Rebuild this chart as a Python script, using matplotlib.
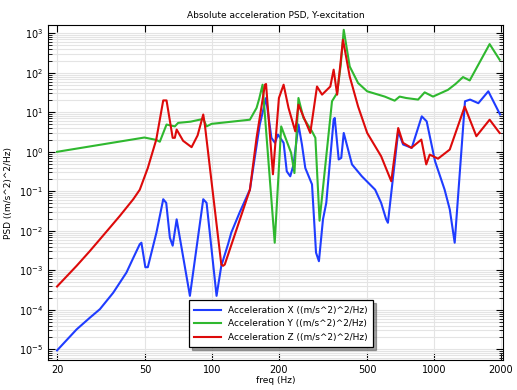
import matplotlib
matplotlib.use('Agg')
import matplotlib.pyplot as plt
from matplotlib.ticker import FixedLocator, NullLocator, LogLocator, NullFormatter

# Values (freq in Hz, PSD in (m/s^2)^2/Hz)
freq_x = [20, 24.5, 28, 31.2, 35.8, 41.1, 44, 47.2, 48.0, 50.0, 51.3, 56.1, 60.2, 62.1, 64.5,
          66.4, 69.2, 79.4, 91.2, 94.4, 104.7, 110, 118, 122, 133, 148, 164, 175, 185, 192,
          198, 210, 217, 225, 233, 245, 254, 263, 282, 294, 303, 316, 327, 353, 357, 372,
          382, 392, 427, 473, 543, 578, 609, 620, 690, 726, 794, 881, 927, 1011, 1117, 1178,
          1240, 1380, 1455, 1585, 1758, 1986]
psd_x = [9.4e-6, 3.2e-5, 6.2e-5, 1.04e-4, 2.7e-4, 8.8e-4, 2.0e-3, 4.6e-3, 5.0e-3, 1.2e-3,
         1.2e-3, 9.0e-3, 0.063, 0.051, 6.7e-3, 4.2e-3, 0.0195, 2.26e-4, 0.063, 0.051,
         2.26e-4, 1.3e-3, 4.6e-3, 9e-3, 0.029, 0.11, 4.9, 23, 2.26, 1.69, 2.73, 1.69, 0.32,
         0.24, 0.48, 4.9, 1.53, 0.39, 0.15, 0.0028, 0.0017, 0.0195, 0.051, 6.5, 7.2, 0.64,
         0.70, 3.0, 0.48, 0.24, 0.11, 0.051, 0.0195, 0.016, 3.3, 1.53, 1.26, 7.9, 5.9, 0.58,
         0.11, 0.035, 0.005, 19, 21, 17, 34, 8.8]

freq_y = [20, 49.5, 56, 58.1, 62.3, 67.9, 70.3, 80, 91.2, 94.4, 99.4, 148, 158.6, 163,
          168.8, 191.5, 204.8, 227, 235, 245, 258, 282, 292, 305, 347, 366, 380, 392, 417,
          455, 500, 600, 665, 700, 750, 848, 908, 990, 1156, 1250, 1352, 1449, 1782, 1977]
psd_y = [1.0, 2.3, 2.0, 1.8, 4.9, 4.4, 5.4, 5.8, 6.8, 4.4, 5.1, 6.5, 12.9, 22, 50, 0.005,
         4.4, 0.94, 0.29, 23, 7.2, 3.3, 2.26, 0.018, 19, 31, 160, 1225, 145, 55, 34, 25,
         19.7, 25, 23, 21, 32, 25, 37, 52, 78, 64, 533, 214]

freq_z = [20, 24.5, 28, 31.2, 35, 38.4, 44.1, 47.2, 51.3, 56, 60.2, 62.3, 66.4, 67.9, 69.2,
          74, 80.8, 86, 91.2, 92.7, 110, 112, 114, 148, 158.6, 173, 175, 188, 200, 210, 221,
          237, 245, 277, 297, 313, 341, 353, 366, 389, 417, 455, 500, 578, 642, 690, 725,
          791, 877, 923, 957, 1043, 1178, 1376, 1553, 1782, 1977]
psd_z = [3.9e-4, 0.0013, 0.0030, 0.0061, 0.013, 0.024, 0.063, 0.11, 0.39, 2.04, 20, 20,
         2.26, 2.26, 3.66, 1.9, 1.31, 2.6, 8.8, 4.9, 0.0014, 0.0013, 0.0014, 0.11, 2.26, 50,
         52, 0.27, 23, 50, 12.9, 3.3, 15.6, 3.0, 45, 28, 45, 120, 28, 685, 81, 14, 3.0, 0.77,
         0.18, 4.0, 1.69, 1.26, 2.04, 0.48, 0.85, 0.67, 1.14, 14, 2.48, 6.5, 3.0]

x_ticks = [20, 50, 100, 200, 500, 1000, 2000]
labels = ['Acceleration X ((m/s^2)^2/Hz)',
          'Acceleration Y ((m/s^2)^2/Hz)',
          'Acceleration Z ((m/s^2)^2/Hz)']

fig = plt.figure(figsize=(5.17, 3.90), dpi=100)
ax = fig.add_axes([0.0928, 0.0769, 0.880, 0.859])

ax.plot(freq_x, psd_x, color='#1f3cff', lw=1.5, label=labels[0])
ax.plot(freq_y, psd_y, color='#2fb82f', lw=1.5, label=labels[1])
ax.plot(freq_z, psd_z, color='#dd0a0a', lw=1.5, label=labels[2])

ax.set_xscale('log')
ax.set_yscale('log')
ax.set_xlim(18.2, 2046)
ax.set_ylim(10 ** -5.27, 10 ** 3.21)

ax.xaxis.set_major_locator(FixedLocator(x_ticks))
ax.xaxis.set_minor_locator(NullLocator())
ax.set_xticklabels([str(t) for t in x_ticks])
ax.yaxis.set_major_locator(LogLocator(base=10, numticks=20))
ax.yaxis.set_minor_locator(LogLocator(base=10, subs=range(2, 10), numticks=20))
ax.yaxis.set_minor_formatter(NullFormatter())

ax.tick_params(which='both', direction='in', top=True, right=True, labelsize=7)
ax.tick_params(which='major', length=5, width=0.8)
ax.tick_params(which='minor', length=3, width=0.6)

ax.grid(True, which='major', axis='x', color='#e4e4e4', lw=0.8)
ax.grid(True, which='both', axis='y', color='#e4e4e4', lw=0.8)
ax.set_axisbelow(True)

ax.set_title('Absolute acceleration PSD, Y-excitation', fontsize=6.5, pad=5)
ax.set_xlabel('freq (Hz)', fontsize=6.5, labelpad=1)
ax.set_ylabel('PSD ((m/s^2)^2/Hz)', fontsize=6.5)

leg = ax.legend(loc='lower left', bbox_to_anchor=(0.300, 0.025), fontsize=6.5,
                fancybox=False, shadow=True, edgecolor='black', handlelength=2.9,
                borderpad=0.6, labelspacing=0.5, framealpha=1)
leg.get_frame().set_linewidth(0.9)

plt.savefig('out.png', dpi=100)
